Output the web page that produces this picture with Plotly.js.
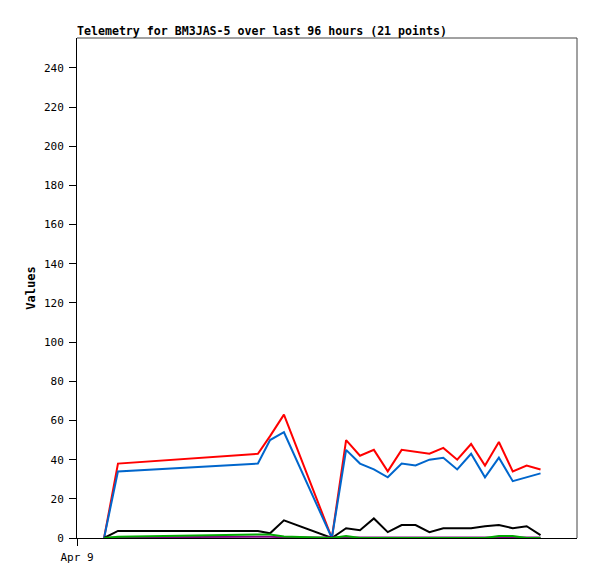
<!DOCTYPE html>
<html><head><meta charset="utf-8">
<script src="https://cdn.plot.ly/plotly-3.0.1.min.js"></script>
<style>body{margin:0;background:#fff}#c{width:597px;height:579px}</style>
</head><body><div id="c"></div>
<script>
const times = ["2024-04-09 01:18","2024-04-09 01:58","2024-04-09 08:41","2024-04-09 09:16","2024-04-09 09:56",
  "2024-04-09 12:14","2024-04-09 12:55","2024-04-09 13:35","2024-04-09 14:15","2024-04-09 14:55",
  "2024-04-09 15:35","2024-04-09 16:15","2024-04-09 16:55","2024-04-09 17:35","2024-04-09 18:15",
  "2024-04-09 18:55","2024-04-09 19:35","2024-04-09 20:15","2024-04-09 20:55","2024-04-09 21:35","2024-04-09 22:15"];
const redVals    = [0,38,43,52,63,0,50,42,45,34,45,44,43,46,40,48,37,49,34,37,35];
const blueVals   = [0,34,38,50,54,0,45,38,35,31,38,37,40,41,35,43,31,41,29,31,33];
const blackVals  = [0,3.6,3.6,2.4,9,0,5,4,10,3,6.6,6.6,3,5,5,5,6,6.6,5,6,1.5];
const greenVals  = [0,0.7,1.8,1.8,0.8,0,1,0,0,0,0,0,0,0,0,0,0,1,1,0,0];
const purpleVals = [0,0.3,0.7,0.7,0.3,0,0.2,0.2,0.2,0.2,0.2,0.2,0.2,0.2,0.2,0.2,0.2,0.5,0.2,0.2,0.2];
const xTickVals = ["2024-04-09 00:00"];
const xTickText = ["Apr 9"];
const yTickVals = [0,20,40,60,80,100,120,140,160,180,200,220,240];

function tr(y, color){ return {x: times, y: y, type:'scatter', mode:'lines', line:{color:color, width:2}, hoverinfo:'skip'}; }
const data = [tr(redVals,'#ff0000'), tr(blueVals,'#0066cc'), tr(blackVals,'#000000'), tr(purpleVals,'#800080'), tr(greenVals,'#00aa00')];
const mono = "'DejaVu Sans Mono', monospace";
const layout = {
  width:597, height:579, showlegend:false,
  margin:{l:77, r:20, t:38, b:41},
  paper_bgcolor:'#fff', plot_bgcolor:'#fff',
  title:{text:'<b>Telemetry for BM3JAS-5 over last 96 hours (21 points)</b>', x:0, xref:'paper', xanchor:'left', y:0.9465, yref:'container', yanchor:'middle', font:{family:mono, size:11.6, color:'#000'}},
  xaxis:{type:'date', range:["2024-04-09 00:00","2024-04-10 00:00"], tickvals:xTickVals, ticktext:xTickText, ticks:'outside', ticklen:7, tickcolor:'#000', ticklabelstandoff:2, showgrid:false, zeroline:false, showline:true, linecolor:'#000', linewidth:1, mirror:false, tickfont:{family:mono, size:11, color:'#000'}},
  yaxis:{range:[0,255.3], tickvals:yTickVals, ticks:'outside', ticklen:7, tickcolor:'#000', ticklabelstandoff:3, showgrid:false, zeroline:false, showline:true, linecolor:'#000', linewidth:1, tickfont:{family:mono, size:11, color:'#000'},
    title:{text:'<b>Values</b>', font:{family:mono, size:12, color:'#000'}, standoff:5}},
  shapes:[{type:'line', xref:'paper', yref:'paper', x0:0, x1:1, y0:1, y1:1, line:{color:'#444', width:1}},
          {type:'line', xref:'paper', yref:'paper', x0:1, x1:1, y0:0, y1:1, line:{color:'#444', width:1}}]
};
Plotly.newPlot('c', data, layout, {staticPlot:true});
</script></body></html>
